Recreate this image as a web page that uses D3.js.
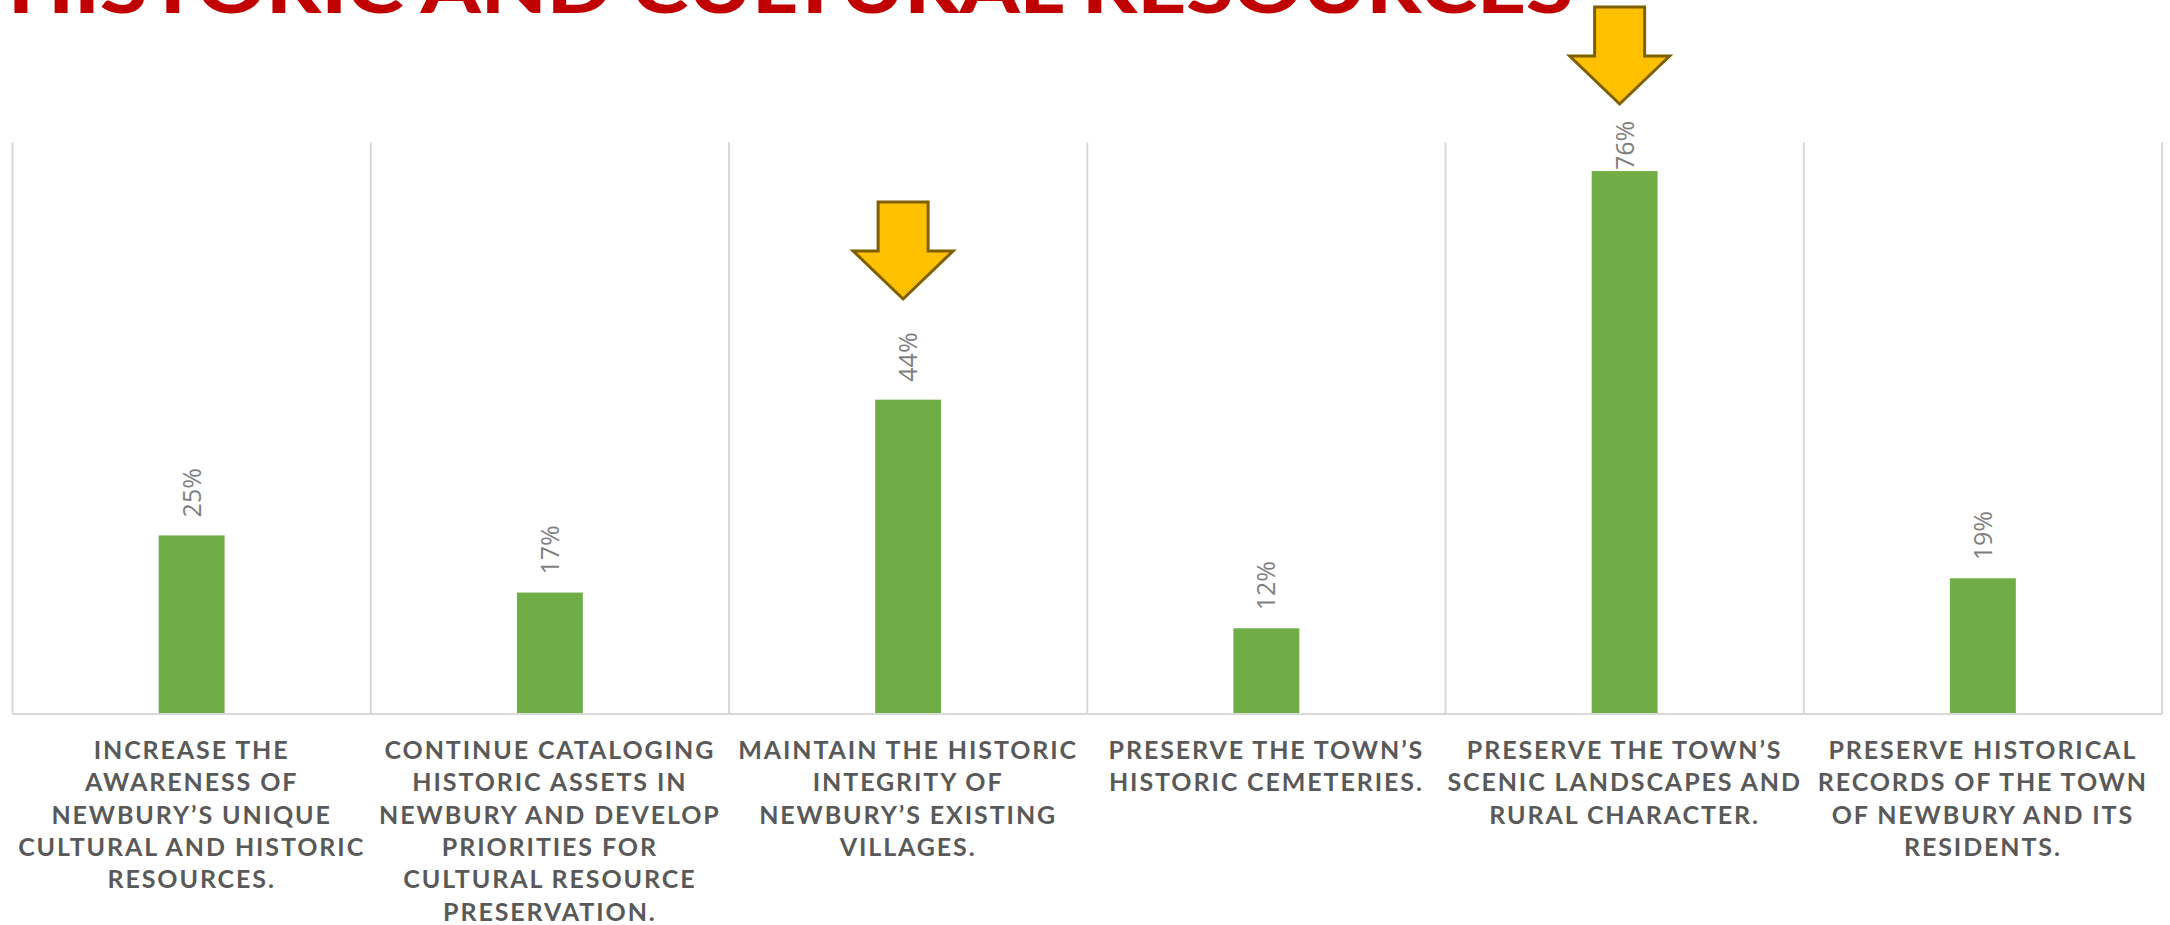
<!DOCTYPE html>
<html>
<head>
<meta charset="utf-8">
<script src="https://cdn.jsdelivr.net/npm/d3@7"></script>
<style>
  html, body { margin: 0; padding: 0; background: #ffffff; }
  svg { display: block; }
</style>
</head>
<body>
<svg id="chart" width="2170" height="925"></svg>
<script>
// Survey results: share of respondents choosing each goal
const categories = [
  "INCREASE THE\nAWARENESS OF\nNEWBURY’S UNIQUE\nCULTURAL AND HISTORIC\nRESOURCES.",
  "CONTINUE CATALOGING\nHISTORIC ASSETS IN\nNEWBURY AND DEVELOP\nPRIORITIES FOR\nCULTURAL RESOURCE\nPRESERVATION.",
  "MAINTAIN THE HISTORIC\nINTEGRITY OF\nNEWBURY’S EXISTING\nVILLAGES.",
  "PRESERVE THE TOWN’S\nHISTORIC CEMETERIES.",
  "PRESERVE THE TOWN’S\nSCENIC LANDSCAPES AND\nRURAL CHARACTER.",
  "PRESERVE HISTORICAL\nRECORDS OF THE TOWN\nOF NEWBURY AND ITS\nRESIDENTS."
];
const values = [0.25, 0.17, 0.44, 0.12, 0.76, 0.19];
const yDomain = [0, 0.8];
const titleText = "HISTORIC AND CULTURAL RESOURCES";
// Goals called out with an arrow
const highlighted = [categories[2], categories[4]];

const svg = d3.select("#chart");

const plot = { left: 12.5, right: 2162, top: 142.5, bottom: 714 };

const x = d3.scaleBand()
  .domain(categories)
  .range([plot.left, plot.right])
  .padding(0);

const y = d3.scaleLinear()
  .domain(yDomain)
  .range([plot.bottom, plot.top]);

const barFrac = 0.184;
const barW = x.bandwidth() * barFrac;
const cx = c => x(c) + x.bandwidth() / 2;

// Title (runs off the top edge of the page)
svg.append("text")
  .attr("x", 8)
  .attr("y", 12.5)
  .attr("textLength", 1565)
  .attr("lengthAdjust", "spacingAndGlyphs")
  .attr("fill", "#C00000")
  .attr("font-family", "Lato, 'Open Sans', sans-serif")
  .attr("font-weight", 900)
  .attr("font-size", 70)
  .text(titleText);

// Vertical category separators
const bounds = categories.map(c => x(c)).concat([plot.right]);
svg.append("g")
  .selectAll("line")
  .data(bounds)
  .join("line")
  .attr("x1", d => d).attr("x2", d => d)
  .attr("y1", plot.top).attr("y2", plot.bottom)
  .attr("stroke", "#d9d9d9")
  .attr("stroke-width", 2);

// Bars
svg.append("g")
  .selectAll("rect")
  .data(categories)
  .join("rect")
  .attr("x", (c) => cx(c) - barW / 2)
  .attr("width", barW)
  .attr("y", (c, i) => y(values[i]))
  .attr("height", (c, i) => y(0) - y(values[i]))
  .attr("fill", "#70AD47");

// Baseline
svg.append("line")
  .attr("x1", plot.left).attr("x2", plot.right)
  .attr("y1", plot.bottom).attr("y2", plot.bottom)
  .attr("stroke", "#d9d9d9")
  .attr("stroke-width", 2);

// Value labels, rotated; kept below the top margin so tall bars' labels
// sit closer to the bar
const fmt = d3.format(".0%");
const labelGap = 18, labelLen = 48, labelCeil = 122;
const labelStart = v => Math.max(y(v) - labelGap, labelCeil + labelLen);
svg.append("g")
  .selectAll("text")
  .data(categories)
  .join("text")
  .attr("transform", (c, i) => `translate(${cx(c)},${labelStart(values[i])}) rotate(-90)`)
  .attr("dy", "0.36em")
  .attr("text-anchor", "start")
  .attr("fill", "#7f7f7f")
  .attr("font-family", "'Open Sans', sans-serif")
  .attr("font-size", 25)
  .text((c, i) => fmt(values[i]));

// Category labels
const labels = svg.append("g")
  .selectAll("text")
  .data(categories)
  .join("text")
  .attr("x", c => cx(c))
  .attr("y", 759)
  .attr("text-anchor", "middle")
  .attr("fill", "#595959")
  .attr("font-family", "Lato, 'Open Sans', sans-serif")
  .attr("font-weight", 700)
  .attr("font-size", 25)
  .attr("letter-spacing", "1.9px");

labels.selectAll("tspan")
  .data(c => c.split("\n"))
  .join("tspan")
  .attr("x", function () { return d3.select(this.parentNode).attr("x"); })
  .attr("dy", (d, i) => i === 0 ? 0 : 32.3)
  .text(d => d);

// Callout arrows above highlighted goals
const arrowTipY = { [highlighted[0]]: 299, [highlighted[1]]: 104 };
const arrowShape = (tx, ty) => {
  const pts = [
    [tx - 25, ty - 97], [tx + 25, ty - 97], [tx + 25, ty - 48],
    [tx + 50, ty - 48], [tx, ty], [tx - 50, ty - 48], [tx - 25, ty - 48]
  ];
  return "M" + pts.map(p => p.join(",")).join("L") + "Z";
};
svg.append("g")
  .selectAll("path")
  .data(highlighted)
  .join("path")
  .attr("d", c => arrowShape(cx(c) - 5, arrowTipY[c]))
  .attr("fill", "#FFC000")
  .attr("stroke", "#7F6000")
  .attr("stroke-width", 3)
  .attr("stroke-linejoin", "miter");
</script>
</body>
</html>
